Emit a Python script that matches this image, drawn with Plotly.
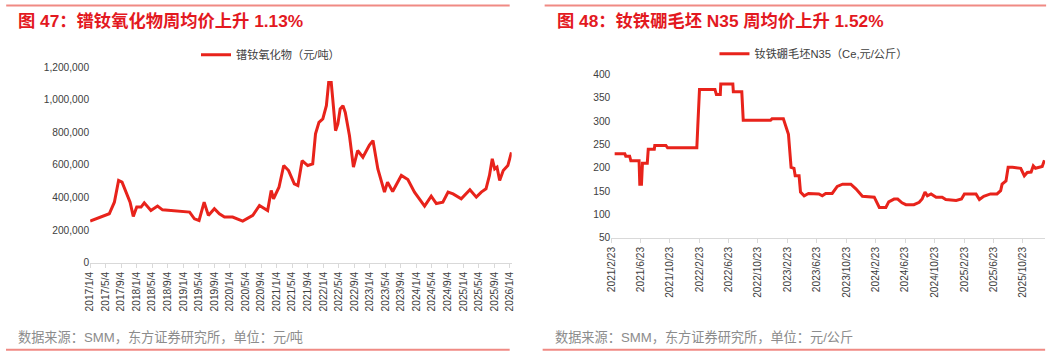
import plotly.graph_objects as go

# ---------------- data: left chart (镨钕氧化物, 元/吨) ----------------
pr_dates = [
    "2017-01-04", "2017-06-03", "2017-07-13", "2017-08-15", "2017-09-11", "2017-10-25",
    "2017-11-13", "2017-12-08", "2018-01-04", "2018-02-07", "2018-03-04", "2018-04-25",
    "2018-06-16", "2018-07-25", "2018-12-04", "2019-02-22", "2019-04-01", "2019-05-07",
    "2019-06-16", "2019-07-19", "2019-09-04", "2019-10-13", "2019-11-22", "2020-01-25",
    "2020-04-13", "2020-07-01", "2020-08-22", "2020-10-25", "2020-11-22", "2020-12-10",
    "2021-01-22", "2021-02-28", "2021-04-07", "2021-05-22", "2021-06-19", "2021-07-22",
    "2021-09-04", "2021-10-13", "2021-11-04", "2021-12-01", "2021-12-31", "2022-01-28",
    "2022-02-15", "2022-03-07", "2022-03-19", "2022-04-10", "2022-04-28", "2022-05-16",
    "2022-06-07", "2022-06-25", "2022-07-28", "2022-08-28", "2022-09-30", "2022-11-10",
    "2022-12-31", "2023-01-28", "2023-03-07", "2023-04-28", "2023-05-22", "2023-07-01",
    "2023-09-07", "2023-10-28", "2023-12-19", "2024-01-16", "2024-03-07", "2024-04-28",
    "2024-06-07", "2024-07-28", "2024-09-07", "2024-10-16", "2024-12-19", "2025-02-25",
    "2025-04-16", "2025-05-25", "2025-07-01", "2025-07-28", "2025-08-19", "2025-09-07",
    "2025-09-25", "2025-10-16", "2025-11-13", "2025-12-19", "2026-01-16",
]
pr_values = [
    255000, 300000, 371000, 504000, 494000, 402000,
    371000, 284000, 341000, 341000, 367000, 320000,
    347000, 324000, 316000, 310000, 269000, 259000,
    371000, 290000, 331000, 300000, 280000, 280000,
    255000, 290000, 351000, 320000, 443000, 392000,
    463000, 596000, 565000, 484000, 473000, 626000,
    596000, 606000, 790000, 861000, 882000, 963000,
    1106000, 1106000, 1004000, 810000, 851000, 943000,
    963000, 922000, 779000, 586000, 688000, 647000,
    722000, 749000, 575000, 433000, 494000, 437000,
    535000, 510000, 433000, 402000, 347000, 408000,
    363000, 371000, 433000, 422000, 392000, 447000,
    402000, 433000, 453000, 535000, 637000, 575000,
    586000, 504000, 565000, 596000, 677000,
]
pr_tick_dates = [f"{2017 + (i * 4) // 12}-{(i * 4) % 12 + 1:02d}-04" for i in range(28)]
pr_tick_text = [f"{2017 + (i * 4) // 12}/{(i * 4) % 12 + 1}/4" for i in range(28)]

# ---------------- data: right chart (钕铁硼毛坯N35, 元/公斤) ----------------
nd_dates = [
    "2021-03-09", "2021-04-20", "2021-04-24", "2021-05-10", "2021-05-15", "2021-06-18",
    "2021-06-21", "2021-06-28", "2021-07-02", "2021-07-22", "2021-07-26", "2021-08-20",
    "2021-08-22", "2021-10-07", "2021-10-14", "2022-02-12", "2022-02-16", "2022-02-23",
    "2022-04-28", "2022-05-04", "2022-05-20", "2022-05-22", "2022-07-11", "2022-07-13",
    "2022-08-17", "2022-08-20", "2022-08-23", "2022-12-14", "2022-12-20", "2023-02-05",
    "2023-02-17", "2023-02-26", "2023-03-09", "2023-03-21", "2023-03-26", "2023-04-11",
    "2023-04-17", "2023-05-02", "2023-05-20", "2023-07-02", "2023-07-16", "2023-07-30",
    "2023-08-26", "2023-09-16", "2023-10-08", "2023-11-11", "2023-12-02", "2023-12-29",
    "2024-02-16", "2024-03-08", "2024-04-04", "2024-04-16", "2024-05-08", "2024-05-23",
    "2024-06-10", "2024-06-26", "2024-07-29", "2024-08-20", "2024-09-01", "2024-09-13",
    "2024-09-23", "2024-10-08", "2024-10-29", "2024-11-23", "2024-12-08", "2025-01-20",
    "2025-02-11", "2025-02-23", "2025-04-12", "2025-04-26", "2025-05-14", "2025-06-11",
    "2025-07-08", "2025-07-23", "2025-07-29", "2025-08-14", "2025-08-23", "2025-09-10",
    "2025-10-14", "2025-10-29", "2025-11-10", "2025-11-26", "2025-12-05", "2025-12-14",
    "2026-01-11", "2026-01-20",
]
nd_values = [
    230, 230, 225, 225, 215, 215,
    165, 165, 210, 210, 240, 240,
    248, 248, 243, 243, 290, 368,
    368, 357, 357, 380, 380, 363,
    363, 332, 302, 302, 305, 305,
    286, 272, 201, 199, 183, 183,
    148, 140, 145, 144, 140, 145,
    145, 160, 165, 165, 155, 139,
    137, 115, 115, 127, 133, 133,
    125, 121, 121, 126, 133, 148,
    140, 144, 137, 137, 132, 130,
    133, 144, 144, 132, 139, 144,
    144, 151, 165, 172, 201, 201,
    199, 183, 190, 191, 204, 199,
    203, 216,
]
nd_tick_dates = [f"{2021 + (1 + i * 4) // 12}-{(1 + i * 4) % 12 + 1:02d}-23" for i in range(15)]
nd_tick_text = [f"{2021 + (1 + i * 4) // 12}/{(1 + i * 4) % 12 + 1}/23" for i in range(15)]

# ---------------- styles ----------------
W, H = 1061, 358
RED = "#E8231B"
TITLE_RED = "#E3191F"
RULE = "#F08A84"
FONT = "Liberation Sans, Arial, Noto Sans CJK SC, sans-serif"
AX = "#D9D9D9"
TICKC = "#404040"


def px(x):
    return min(max(((x - 5.8) / 0.9916) / W, 0.0), 1.0)


def py(y):
    return min(max(1 - ((y - 5.1) / 0.974) / H, 0.0), 1.0)


fig = go.Figure()
fig.add_trace(go.Scatter(
    x=pr_dates, y=pr_values, mode="lines", name="镨钕氧化物（元/吨）",
    line=dict(color=RED, width=3), xaxis="x", yaxis="y", legend="legend",
))
fig.add_trace(go.Scatter(
    x=nd_dates, y=nd_values, mode="lines", name="钕铁硼毛坯N35（Ce,元/公斤）",
    line=dict(color=RED, width=3), xaxis="x2", yaxis="y2", legend="legend2",
))

xcommon = dict(
    type="date", showgrid=False, zeroline=False, showline=True, linecolor=AX,
    linewidth=1, ticks="outside", ticklen=4, tickcolor=AX, tickangle=-90,
    tickfont=dict(size=10.2, color=TICKC, family=FONT),
)
ycommon = dict(
    showgrid=False, zeroline=False, showline=False, ticks="",
    tickfont=dict(size=10.2, color=TICKC, family=FONT),
)

fig.update_layout(
    width=W, height=H,
    margin=dict(l=0, r=0, t=0, b=0),
    paper_bgcolor="white", plot_bgcolor="white",
    font=dict(family=FONT),
    xaxis=dict(domain=[px(90), px(512)], range=["2017-01-04", "2026-01-18"],
               tickmode="array", tickvals=pr_tick_dates, ticktext=pr_tick_text,
               anchor="y", **xcommon),
    yaxis=dict(domain=[py(264), py(67.5)], range=[0, 1200000], dtick=200000,
               tickformat=",", anchor="x", **ycommon),
    xaxis2=dict(domain=[px(611.7), px(1046)], range=["2021-02-23", "2026-01-23"],
                tickmode="array", tickvals=nd_tick_dates, ticktext=nd_tick_text,
                anchor="y2", **xcommon),
    yaxis2=dict(domain=[py(239), py(75)], range=[50, 400], dtick=50,
                anchor="x2", **ycommon),
    legend=dict(x=px(196), y=py(55), xanchor="left", yanchor="middle",
                bgcolor="rgba(0,0,0,0)", font=dict(size=11.2, color=TICKC, family=FONT),
                itemwidth=30, tracegroupgap=0),
    legend2=dict(x=px(715), y=py(54), xanchor="left", yanchor="middle",
                 bgcolor="rgba(0,0,0,0)", font=dict(size=11.2, color=TICKC, family=FONT),
                 itemwidth=30, tracegroupgap=0),
    showlegend=True,
)

# decorative rules
shapes = []
for x0, x1 in [(6, 510), (545, 1047)]:
    shapes.append(dict(type="line", xref="paper", yref="paper", x0=px(x0), x1=px(x1),
                       y0=py(5.5), y1=py(5.5), line=dict(color=RULE, width=2)))
for x0, x1 in [(5, 510), (543, 1046)]:
    shapes.append(dict(type="line", xref="paper", yref="paper", x0=px(x0), x1=px(x1),
                       y0=py(351.5), y1=py(351.5), line=dict(color=RULE, width=2)))
fig.update_layout(shapes=shapes)

ann = [
    dict(text="<b>图 47：镨钕氧化物周均价上升 1.13%</b>", x=px(15.5), y=py(21),
         xanchor="left", yanchor="middle", font=dict(size=17.3, color=TITLE_RED, family=FONT)),
    dict(text="<b>图 48：钕铁硼毛坯 N35 周均价上升 1.52%</b>", x=px(555), y=py(21),
         xanchor="left", yanchor="middle", font=dict(size=17.3, color=TITLE_RED, family=FONT)),
    dict(text="数据来源：SMM，东方证券研究所，单位：元/吨", x=px(16), y=py(339),
         xanchor="left", yanchor="middle", font=dict(size=13.2, color="#8C8C8C", family=FONT)),
    dict(text="数据来源：SMM，东方证券研究所，单位：元/公斤", x=px(553), y=py(339),
         xanchor="left", yanchor="middle", font=dict(size=13.2, color="#8C8C8C", family=FONT)),
]
for a in ann:
    a.update(xref="paper", yref="paper", showarrow=False)
fig.update_layout(annotations=ann)

fig.write_html(
    "out.html",
    config={"displayModeBar": False},
    post_script=(
        "document.documentElement.style.margin='0';"
        "document.documentElement.style.overflow='hidden';"
        "document.body.style.margin='0';document.body.style.padding='0';"
        "document.body.style.overflow='hidden';document.body.style.height='358px';"
    ),
)
